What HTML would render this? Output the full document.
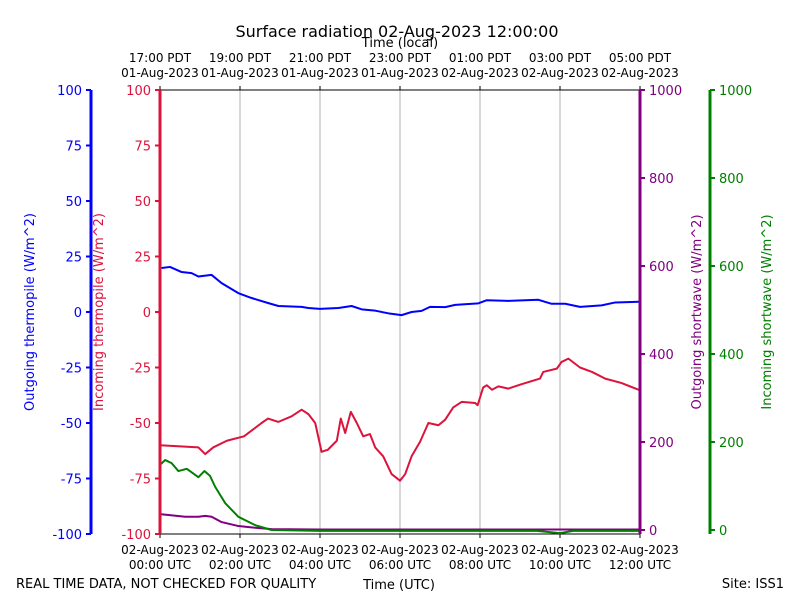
<!DOCTYPE html>
<html><head><meta charset="utf-8"><style>
body{margin:0;background:#fff;}
svg{display:block;font-family:"DejaVu Sans","Liberation Sans",sans-serif;}
</style></head><body>
<svg id="chart" width="800" height="600" viewBox="0 0 800 600">
<text x="397" y="37" font-size="16" text-anchor="middle">Surface radiation 02-Aug-2023 12:00:00</text>
<text x="400" y="47" font-size="13" text-anchor="middle">Time (local)</text>
<text x="399" y="589" font-size="13" text-anchor="middle">Time (UTC)</text>
<text x="16" y="588" font-size="13">REAL TIME DATA, NOT CHECKED FOR QUALITY</text>
<text x="784" y="588" font-size="13" text-anchor="end">Site: ISS1</text>
<g id="g"></g>
</svg>
<script>
const utcTop=["02-Aug-2023","02-Aug-2023","02-Aug-2023","02-Aug-2023","02-Aug-2023","02-Aug-2023","02-Aug-2023"];
const utcBot=["00:00 UTC","02:00 UTC","04:00 UTC","06:00 UTC","08:00 UTC","10:00 UTC","12:00 UTC"];
const locTop=["17:00 PDT","19:00 PDT","21:00 PDT","23:00 PDT","01:00 PDT","03:00 PDT","05:00 PDT"];
const locBot=["01-Aug-2023","01-Aug-2023","01-Aug-2023","01-Aug-2023","02-Aug-2023","02-Aug-2023","02-Aug-2023"];
const tickHours=[0,2,4,6,8,10,12];
const leftTicks=[-100,-75,-50,-25,0,25,50,75,100];
const rightTicks=[0,200,400,600,800,1000];
const blueT=[0.04,0.25,0.54,0.79,0.96,1.29,1.54,1.96,2.29,2.71,2.96,3.54,3.71,4,4.46,4.79,5.04,5.38,5.71,6.04,6.29,6.54,6.75,7.13,7.38,7.96,8.17,8.71,9.46,9.79,10.13,10.5,11.04,11.38,11.96,12];
const blueV=[19.8,20.3,18,17.5,16,16.7,13,8.5,6.3,4,2.7,2.3,1.8,1.4,1.8,2.7,1.2,0.6,-0.6,-1.4,0,0.5,2.3,2.2,3.2,3.9,5.3,5,5.5,3.7,3.7,2.3,3,4.3,4.6,4.6];
const redT=[0,0.96,1.13,1.33,1.67,2.1,2.54,2.7,2.96,3.29,3.54,3.71,3.88,4.04,4.2,4.42,4.52,4.63,4.77,4.92,5.08,5.25,5.38,5.58,5.79,6,6.13,6.29,6.5,6.71,6.96,7.13,7.33,7.54,7.88,7.94,8.08,8.17,8.3,8.46,8.71,9.04,9.5,9.58,9.92,10.04,10.21,10.5,10.8,11.13,11.54,11.96,12];
const redV=[-60,-61,-64,-61,-58,-56,-50,-48,-49.5,-47,-44,-46,-50,-63,-62,-58,-48,-54.5,-45,-50,-56,-55,-61,-65,-73,-76,-73,-65,-58.5,-50,-51,-48.5,-43,-40.5,-41,-42,-34,-33,-35,-33.5,-34.5,-32.5,-30,-27,-25.5,-22.5,-21,-25,-27,-30,-32,-35,-35];
const greenT=[0,0.13,0.29,0.46,0.67,0.96,1.11,1.25,1.38,1.63,1.96,2.38,2.79,4,6.5,9.42,10,10.33,12];
const greenV=[148,159,152,134,139,120,134,123,98,61,30,11,0,-2,-2,-2,-7,-2,-2];
const purpleT=[0,0.63,0.96,1.13,1.29,1.54,1.96,2.38,2.79,4,8,12];
const purpleV=[36,30,30,32,30,18,9,5,2,1,1,1];

const NS="http://www.w3.org/2000/svg",g=document.getElementById('g');
const X=h=>160+h*40, YL=v=>312-v*2.22, YR=v=>530-v*0.44;
function el(t,a,txt){const e=document.createElementNS(NS,t);for(const k in a)e.setAttribute(k,a[k]);if(txt!=null)e.textContent=txt;g.appendChild(e);return e;}
tickHours.forEach((h,i)=>{
 if(i>0&&i<6){const gl=el('line',{x1:X(h),x2:X(h),y1:90,y2:534,stroke:'#b0b0b0','stroke-width':1});
 
 }
 el('line',{x1:X(h),x2:X(h),y1:534,y2:538,stroke:'#000'});
 el('line',{x1:X(h),x2:X(h),y1:86,y2:90,stroke:'#000'});
 const a=el('text',{x:X(h),y:554,'font-size':12,'text-anchor':'middle'},utcTop[i]);
 
 
 const b=el('text',{x:X(h),y:569,'font-size':12,'text-anchor':'middle'},utcBot[i]);
 
 
 const c=el('text',{x:X(h),y:62,'font-size':12,'text-anchor':'middle'},locTop[i]);
 
 
 const d=el('text',{x:X(h),y:77,'font-size':12,'text-anchor':'middle'},locBot[i]);
 
 
});
el('line',{x1:160,x2:640,y1:90,y2:90,stroke:'#000'});
el('line',{x1:160,x2:640,y1:534,y2:534,stroke:'#000'});
function line(T,V,Y,col,name){
 const p=el('polyline',{points:T.map((t,i)=>X(t)+','+Y(V[i])).join(' '),fill:'none',stroke:col,'stroke-width':2,'stroke-linejoin':'round'});
 
 
}
line(purpleT,purpleV,YR,'#800080','outgoing-shortwave-line');
line(greenT,greenV,YR,'#008000','incoming-shortwave-line');
line(blueT,blueV,YL,'#0000ff','outgoing-thermopile-line');
line(redT,redV,YL,'#dc143c','incoming-thermopile-line');
// axes
function axis(x,col,ticks,Y,dir,name,title,tx,y1,y2){
 const s=el('line',{x1:x,x2:x,y1:y1,y2:y2,stroke:col,'stroke-width':3});
 
 
 ticks.forEach(v=>{
  el('line',{x1:x,x2:x+dir*5,y1:Y(v),y2:Y(v),stroke:col,'stroke-width':2});
  const t=el('text',{x:x+dir*9,y:Y(v)+5,'font-size':13,fill:col,'text-anchor':dir<0?'end':'start'},String(v));
  
  
 });
 const tt=el('text',{x:tx,y:312,'font-size':13,fill:col,'text-anchor':'middle',transform:`rotate(-90 ${tx} 312)`},title);
 
 
}
axis(91,'#0000ff',leftTicks,YL,-1,'outgoing-thermopile-axis','Outgoing thermopile (W/m^2)',34,90,534);
axis(160,'#dc143c',leftTicks,YL,-1,'incoming-thermopile-axis','Incoming thermopile (W/m^2)',103,90,534);
axis(640,'#800080',rightTicks,YR,1,'outgoing-shortwave-axis','Outgoing shortwave (W/m^2)',701,90,534);
axis(710,'#008000',rightTicks,YR,1,'incoming-shortwave-axis','Incoming shortwave (W/m^2)',771,90,534);
</script>
</body></html>
